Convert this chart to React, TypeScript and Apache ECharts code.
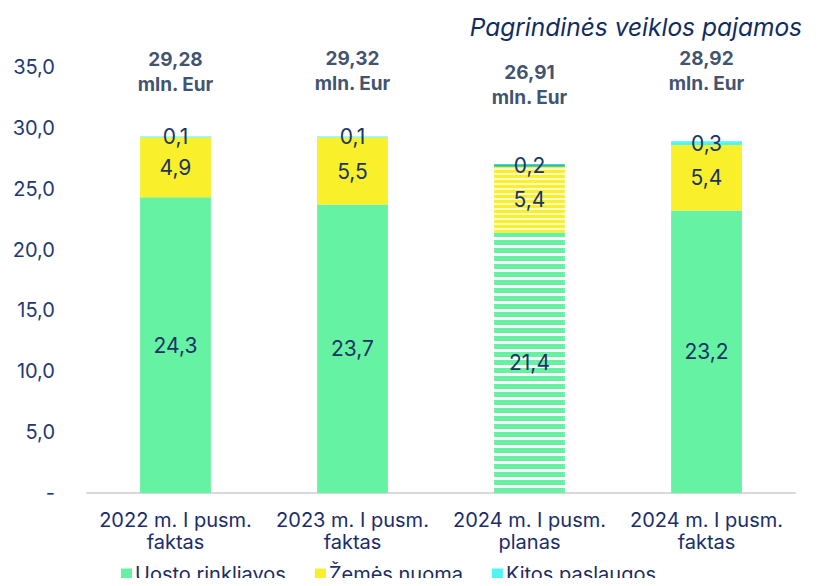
import React, { useEffect, useRef } from 'react';
import * as echarts from 'echarts';

const categories = [
  '2022 m. I pusm.\nfaktas',
  '2023 m. I pusm.\nfaktas',
  '2024 m. I pusm.\nplanas',
  '2024 m. I pusm.\nfaktas',
];
const uostoRinkliavos = [24.3, 23.7, 21.4, 23.2];
const zemesNuoma = [4.9, 5.5, 5.4, 5.4];
const kitosPaslaugos = [0.1, 0.1, 0.2, 0.3];
const totals = ['29,28', '29,32', '26,91', '28,92'];
const totalLabelY = [34.6, 34.7, 33.5, 34.7];
const planIndex = 2;

const GREEN = '#66f2a3';
const YELLOW = '#f9f02b';
const CYAN = '#4ff5f3';
const NAVY = '#1b3466';

function stripes(fg: string, bg: string, on: number, off: number) {
  const c = document.createElement('canvas');
  c.width = 8;
  c.height = on + off;
  const ctx = c.getContext('2d')!;
  ctx.fillStyle = bg;
  ctx.fillRect(0, 0, 8, on + off);
  ctx.fillStyle = fg;
  ctx.fillRect(0, 0, 8, on);
  return { image: c, repeat: 'repeat' } as any;
}

const fmt = (v: number) => v.toFixed(1).replace('.', ',');

export default function App() {
  const ref = useRef<HTMLDivElement>(null);
  useEffect(() => {
    const chart = echarts.init(ref.current!, null, { renderer: 'svg' });
    const greenPattern = stripes(GREEN, '#ffffff', 5, 3);
    const yellowPattern = stripes(YELLOW, '#fdf9c8', 3, 2);
    const mk = (arr: number[], pattern: any) =>
      arr.map((v, i) => (i === planIndex && pattern ? { value: v, itemStyle: { color: pattern } } : v));
    const segLabel = {
      show: true,
      position: 'inside',
      formatter: (p: any) => fmt(p.value),
      color: NAVY,
      fontSize: 21,
      fontFamily: 'Inter',
    };
    const option: any = {
      animation: false,
      title: {
        text: 'Pagrindinės veiklos pajamos',
        right: 12,
        top: 9,
        textStyle: { fontStyle: 'italic', fontWeight: 'normal', fontSize: 24.5, color: '#112c60', fontFamily: 'Inter' },
      },
      legend: {
        data: ['Uosto rinkliavos', 'Žemės nuoma', 'Kitos paslaugos'],
        left: 121,
        top: 563,
        padding: 0,
        icon: 'rect',
        itemWidth: 11,
        itemHeight: 11,
        itemGap: 29,
        textStyle: { fontSize: 20, lineHeight: 22, color: '#1a2d5e', fontFamily: 'Inter', padding: [0, 0, 0, -2] },
      },
      grid: { left: 87, right: 24, top: 67, bottom: 93 },
      xAxis: {
        type: 'category',
        data: categories,
        axisLine: { lineStyle: { color: '#d9d9d9', width: 2 } },
        axisTick: { show: false },
        axisLabel: { interval: 0, fontSize: 20, lineHeight: 22, color: '#1a2d6b', fontFamily: 'Inter', margin: 16 },
      },
      yAxis: {
        type: 'value',
        min: 0,
        max: 35,
        interval: 5,
        splitLine: { show: false },
        axisLine: { show: false },
        axisLabel: {
          fontSize: 20,
          color: '#1d3a72',
          fontFamily: 'Inter',
          margin: 32,
          formatter: (v: number) => (v === 0 ? '-' : fmt(v)),
        },
      },
      series: [
        {
          name: 'Uosto rinkliavos',
          type: 'bar',
          stack: 'a',
          barWidth: '40%',
          itemStyle: { color: GREEN },
          data: mk(uostoRinkliavos, greenPattern),
          label: segLabel,
        },
        {
          name: 'Žemės nuoma',
          type: 'bar',
          stack: 'a',
          itemStyle: { color: YELLOW },
          data: mk(zemesNuoma, yellowPattern),
          label: segLabel,
        },
        {
          name: 'Kitos paslaugos',
          type: 'bar',
          stack: 'a',
          itemStyle: { color: CYAN },
          data: kitosPaslaugos.map((v, i) => (i === planIndex ? { value: v, itemStyle: { color: '#1fbfae' } } : v)),
          label: segLabel,
        },
        {
          name: 'totals',
          type: 'scatter',
          symbolSize: 0,
          silent: true,
          data: totalLabelY.map((y, i) => [i, y]),
          label: {
            show: true,
            position: 'inside',
            formatter: (p: any) => `${totals[p.dataIndex]}\nmln. Eur`,
            fontSize: 19,
            lineHeight: 25,
            fontWeight: 'bold',
            fontFamily: 'Inter',
            color: '#0c2548',
          },
        },
      ],
    };
    chart.setOption(option);
    return () => chart.dispose();
  }, []);
  return <div ref={ref} style={{ width: 819, height: 586, margin: -8 }} />;
}
